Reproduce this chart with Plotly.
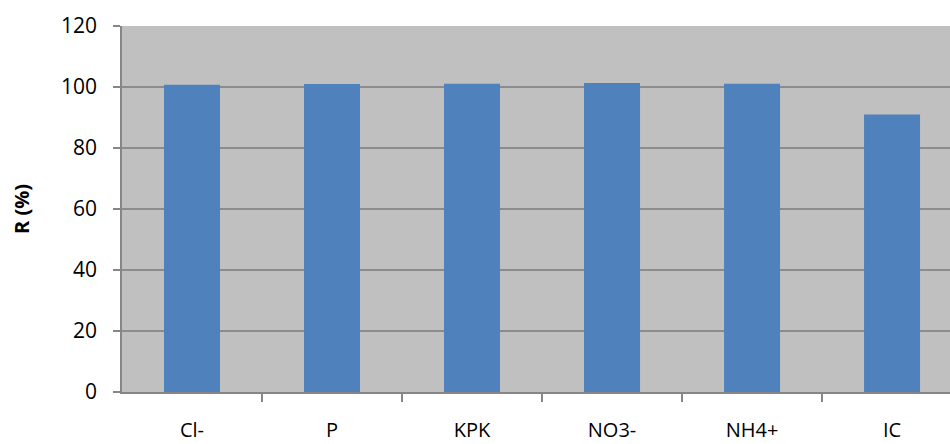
import plotly.graph_objects as go

categories = ["Cl-", "P", "KPK", "NO3-", "NH4+", "IC"]
values = [100.7, 101.0, 101.1, 101.3, 101.1, 91.0]
y_ticks = [0, 20, 40, 60, 80, 100, 120]

fig = go.Figure(go.Bar(
    x=list(range(len(categories))), y=values,
    marker=dict(color="#4f81bd", line=dict(width=0)),
    width=0.4,
))

fig.update_layout(
    width=950, height=444,
    margin=dict(l=122, r=0, t=26, b=52),
    paper_bgcolor="white",
    plot_bgcolor="#c0c0c0",
    showlegend=False,
    font=dict(family="Open Sans, Liberation Sans, sans-serif", size=21, color="black"),
)
fig.update_xaxes(
    range=[-0.5, 5.414],
    tickmode="array",
    tickvals=list(range(len(categories))),
    ticktext=categories,
    showgrid=False,
    showline=True, linecolor="#868686", linewidth=1.5,
    ticks="", ticklabelstandoff=19,
    tickfont=dict(size=20),
    zeroline=False,
    automargin=False,
)
fig.update_xaxes(
    minor=dict(tickmode="array", tickvals=[0.5, 1.5, 2.5, 3.5, 4.5],
               ticks="outside", ticklen=8, tickcolor="#868686", tickwidth=1.5, showgrid=False)
)
fig.update_yaxes(
    range=[0, 120],
    tickvals=y_ticks,
    showgrid=True, gridcolor="#8c8c8c", gridwidth=1.5,
    showline=True, linecolor="#868686", linewidth=1.5,
    ticks="outside", ticklen=7, tickcolor="#868686", tickwidth=1.5,
    tickfont=dict(size=21),
    ticklabelstandoff=12,
    zeroline=False,
    automargin=False,
    title=dict(text="<b>R (%)</b>", font=dict(size=20), standoff=26),
)

fig.write_html(
    "out.html",
    config={"displayModeBar": False},
    post_script="document.body.style.margin='0';document.body.style.overflow='hidden';",
)
